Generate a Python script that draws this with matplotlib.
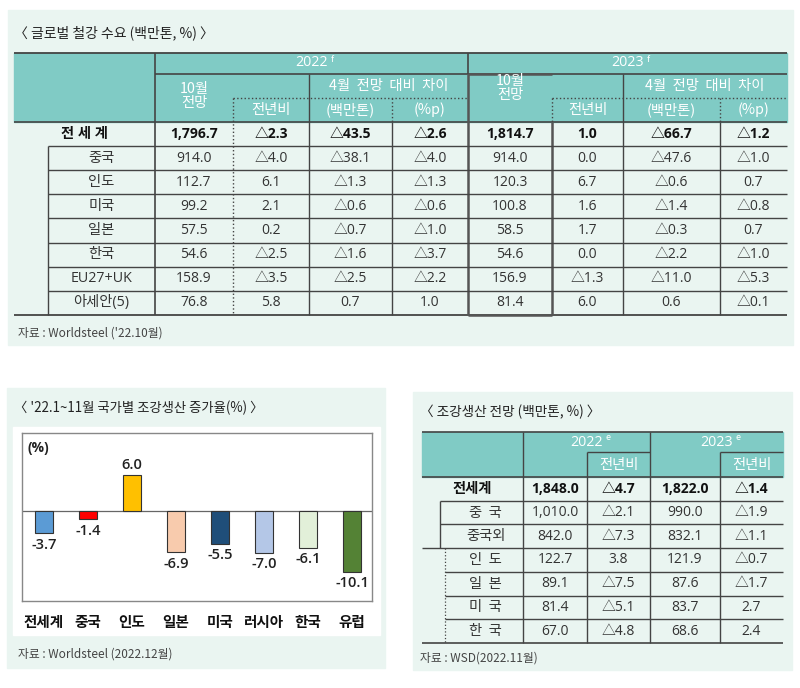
import matplotlib
matplotlib.use("Agg")
import matplotlib.pyplot as plt
import matplotlib.patches as patches

plt.rcParams['font.family'] = ['Noto Sans CJK KR', 'DejaVu Sans']
NUMF = ['Open Sans', 'Noto Sans CJK KR', 'DejaVu Sans']

# --- 글로벌 철강 수요 ---
demand_rows = ['전 세 계', '중국', '인도', '미국', '일본', '한국', 'EU27+UK', '아세안(5)']
d22_oct = [1796.7, 914.0, 112.7, 99.2, 57.5, 54.6, 158.9, 76.8]
d22_yoy = [-2.3, -4.0, 6.1, 2.1, 0.2, -2.5, -3.5, 5.8]
d22_dmt = [-43.5, -38.1, -1.3, -0.6, -0.7, -1.6, -2.5, 0.7]
d22_dpp = [-2.6, -4.0, -1.3, -0.6, -1.0, -3.7, -2.2, 1.0]
d23_oct = [1814.7, 914.0, 120.3, 100.8, 58.5, 54.6, 156.9, 81.4]
d23_yoy = [1.0, 0.0, 6.7, 1.6, 1.7, 0.0, -1.3, 6.0]
d23_dmt = [-66.7, -47.6, -0.6, -1.4, -0.3, -2.2, -11.0, 0.6]
d23_dpp = [-1.2, -1.0, 0.7, -0.8, 0.7, -1.0, -5.3, -0.1]

# --- 조강생산 증가율 ---
countries = ['전세계', '중국', '인도', '일본', '미국', '러시아', '한국', '유럽']
growth = [-3.7, -1.4, 6.0, -6.9, -5.5, -7.0, -6.1, -10.1]
bar_colors = ['#5b9bd5', '#ff0000', '#ffc000', '#f8cbad', '#1f4e79', '#b4c7e7', '#e2f0d9', '#548235']

# --- 조강생산 전망 ---
prod_rows = ['전세계', '중  국', '중국외', '인  도', '일  본', '미  국', '한  국']
p22 = [1848.0, 1010.0, 842.0, 122.7, 89.1, 81.4, 67.0]
p22_yoy = [-4.7, -2.1, -7.3, 3.8, -7.5, -5.1, -4.8]
p23 = [1822.0, 990.0, 832.1, 121.9, 87.6, 83.7, 68.6]
p23_yoy = [-1.4, -1.9, -1.1, -0.7, -1.7, 2.7, 2.4]

BG = '#eaf5f1'
HEAD = '#80cbc5'
LINE = '#444444'
TXT = '#333333'
DS = 10   # data font size


def fmt(v):
    return ('△' if v < 0 else '') + f'{abs(v):,.1f}'


def hline(ax, y, x0, x1, lw=1.0, ls='-', c=LINE):
    ax.plot([x0, x1], [y, y], color=c, lw=lw, ls=ls, solid_capstyle='butt')


def vline(ax, x, y0, y1, lw=1.0, ls='-', c=LINE):
    ax.plot([x, x], [y0, y1], color=c, lw=lw, ls=ls, solid_capstyle='butt')


fig = plt.figure(figsize=(8, 6.88), dpi=100)
ax = fig.add_axes([0, 0, 1, 1])
ax.set_xlim(0, 800)
ax.set_ylim(688, 0)
ax.axis('off')

# panel backgrounds
ax.add_patch(patches.Rectangle((8, 10), 785, 335, color=BG, zorder=0))
ax.add_patch(patches.Rectangle((7, 388), 378, 280, color=BG, zorder=0))
ax.add_patch(patches.Rectangle((413, 392), 379, 278, color=BG, zorder=0))

# ================= table 1 =================
ax.text(14, 33, '〈 글로벌 철강 수요 (백만톤, %) 〉', fontsize=10, color='#222222', va='center', weight='medium')
L, R, T, HB = 14, 787, 53, 122
ax.add_patch(patches.Rectangle((L, T), R - L, HB - T, color=HEAD, zorder=1))
row_h = 24.1
nrow = len(demand_rows)
B = HB + row_h * nrow
cols = [155, 233, 309, 392, 468, 552, 623, 720, 787]

hline(ax, T, L, R, 1.3)
hline(ax, 74, 155, R, 1.2)
hline(ax, HB, L, R, 1.2)
hline(ax, B, L, R, 1.3)
hline(ax, 98, 233, 468, 1.0, ':')
hline(ax, 98, 552, R, 1.0, ':')
vline(ax, 155, T, B, 1.2)
vline(ax, 309, 74, B, 1.0)
vline(ax, 623, 74, B, 1.0)
vline(ax, 233, 98, B, 1.0, ':')
vline(ax, 392, 98, HB, 1.0, ':')
vline(ax, 392, HB, B, 1.0)
vline(ax, 720, 98, HB, 1.0, ':')
vline(ax, 720, HB, B, 1.0)
vline(ax, 552, 98, HB, 1.0, ':')
vline(ax, 552, HB, B, 1.8, c='#555555')
vline(ax, 468, T, 74, 1.2)
vline(ax, 468, 74, B, 1.8, c='#555555')
hline(ax, 74, 468, 552, 1.8, c='#555555')
hline(ax, B, 468, 552, 1.8, c='#555555')
vline(ax, 48, HB + row_h, B, 1.0)
for i in range(1, nrow):
    hline(ax, HB + row_h * i, 48, R, 1.0)

hc = 'white'
hs = 10.3
ax.text((155 + 468) / 2, 63, '2022', color=hc, fontsize=hs, ha='center', va='center', family=NUMF)
ax.text((155 + 468) / 2 + 19, 59, 'f', color=hc, fontsize=6.5, ha='left', va='center', style='italic')
ax.text((468 + R) / 2, 63, '2023', color=hc, fontsize=hs, ha='center', va='center', family=NUMF)
ax.text((468 + R) / 2 + 19, 59, 'f', color=hc, fontsize=6.5, ha='left', va='center', style='italic')
ax.text(194, 96, '10월\n전망', color=hc, fontsize=hs, ha='center', va='center', linespacing=1.0)
ax.text(510, 88, '10월\n전망', color=hc, fontsize=hs, ha='center', va='center', linespacing=1.0)
ax.text((309 + 468) / 2, 86, '4월  전망  대비  차이', color=hc, fontsize=hs, ha='center', va='center')
ax.text((623 + R) / 2, 86, '4월  전망  대비  차이', color=hc, fontsize=hs, ha='center', va='center')
for x0, x1, s in [(233, 309, '전년비'), (309, 392, '(백만톤)'), (392, 468, '(%p)'),
                  (552, 623, '전년비'), (623, 720, '(백만톤)'), (720, 787, '(%p)')]:
    ax.text((x0 + x1) / 2, 110, s, color=hc, fontsize=hs, ha='center', va='center')

series1 = [d22_oct, d22_yoy, d22_dmt, d22_dpp, d23_oct, d23_yoy, d23_dmt, d23_dpp]
for i, name in enumerate(demand_rows):
    y = HB + row_h * (i + 0.5)
    bold = i == 0
    w = 'bold' if bold else 'normal'
    col = '#111111' if bold else TXT
    xc = (L + 155) / 2 if bold else (48 + 155) / 2
    ax.text(xc, y, name, fontsize=10.3, ha='center', va='center', color=col, weight=w, family=NUMF)
    for j, s in enumerate(series1):
        xc = (cols[j] + cols[j + 1]) / 2
        ax.text(xc, y, fmt(s[i]), fontsize=DS, ha='center', va='center', color=col, weight=w, family=NUMF)

ax.text(18, 333, "자료 : Worldsteel ('22.10월)", fontsize=8.5, color='#444444', va='center')

# ================= bar chart =================
ax.text(14, 408, "〈 '22.1~11월 국가별 조강생산 증가율(%) 〉", fontsize=9.6, color='#222222', va='center', weight='medium')
ax.add_patch(patches.Rectangle((13, 427), 367, 208, color='white', zorder=1))
ax.text(27, 448, '(%)', fontsize=10, weight='bold', color='#222222', va='center', family=NUMF)
ax.text(18, 654, '자료 : Worldsteel (2022.12월)', fontsize=8.5, color='#444444', va='center')

bx = fig.add_axes([22 / 800, 1 - 601 / 688, 350 / 800, 168 / 688])
bx.set_facecolor('none')
pos = list(range(len(countries)))
bx.bar(pos, growth, width=0.42, color=bar_colors, edgecolor='#333333', linewidth=0.8, zorder=3)
bx.axhline(0, color='#666666', lw=0.9, zorder=2)
bx.set_xlim(-0.5, 7.45)
bx.set_ylim(-15, 13)
bx.set_xticks([])
bx.set_yticks([])
for sp in bx.spines.values():
    sp.set_color('#888888')
    sp.set_linewidth(1.0)
for p, v in zip(pos, growth):
    off = 1.7 if v > 0 else -1.9
    bx.text(p, v + off, f'{v:.1f}', ha='center', va='center', fontsize=10.5, color='#222222',
            weight='semibold', family=NUMF)
for p, c in zip(pos, countries):
    bx.text(p, -18.5, c, ha='center', va='center', fontsize=10.5, weight='bold', color='#111111', clip_on=False)

# ================= table 3 =================
ax.text(420, 412, '〈 조강생산 전망 (백만톤, %) 〉', fontsize=9.8, color='#222222', va='center', weight='medium')
L3, R3, T3, HB3 = 422, 783, 432, 477
rh3 = 23.7
B3 = HB3 + rh3 * len(prod_rows)
c3 = [523, 587, 650, 720, 783]
ax.add_patch(patches.Rectangle((L3, T3), R3 - L3, HB3 - T3, color=HEAD, zorder=1))
hline(ax, T3, L3, R3, 1.2)
hline(ax, HB3, L3, R3, 1.2)
hline(ax, B3, L3, R3, 1.2)
hline(ax, 452, 587, 650, 1.0)
hline(ax, 452, 720, R3, 1.0)
vline(ax, 523, T3, B3, 1.0)
vline(ax, 650, T3, B3, 1.0)
vline(ax, 587, 452, B3, 1.0)
vline(ax, 720, 452, B3, 1.0)
vline(ax, 440, HB3 + rh3, HB3 + rh3 * 3, 1.0)
vline(ax, 445, HB3 + rh3 * 3, B3, 0.9, ':')
hline(ax, HB3 + rh3, 440, R3, 1.0)
hline(ax, HB3 + rh3 * 2, 440, R3, 1.0)
hline(ax, HB3 + rh3 * 3, L3, R3, 1.0)
for i in range(4, len(prod_rows)):
    hline(ax, HB3 + rh3 * i, 445, R3, 1.0)

ax.text((523 + 650) / 2, 442, '2022', color='white', fontsize=10.3, ha='center', va='center', family=NUMF)
ax.text((523 + 650) / 2 + 19, 438, 'e', color='white', fontsize=6.5, ha='left', va='center')
ax.text((650 + R3) / 2, 442, '2023', color='white', fontsize=10.3, ha='center', va='center', family=NUMF)
ax.text((650 + R3) / 2 + 19, 438, 'e', color='white', fontsize=6.5, ha='left', va='center')
ax.text((587 + 650) / 2, 465, '전년비', color='white', fontsize=10.3, ha='center', va='center')
ax.text((720 + R3) / 2, 465, '전년비', color='white', fontsize=10.3, ha='center', va='center')

series3 = [p22, p22_yoy, p23, p23_yoy]
for i, name in enumerate(prod_rows):
    y = HB3 + rh3 * (i + 0.5)
    bold = i == 0
    w = 'bold' if bold else 'normal'
    col = '#111111' if bold else TXT
    xc = (L3 + 523) / 2 if bold else (448 + 523) / 2
    ax.text(xc, y, name, fontsize=10.3, ha='center', va='center', color=col, weight=w)
    for j, s in enumerate(series3):
        ax.text((c3[j] + c3[j + 1]) / 2, y, fmt(s[i]), fontsize=DS, ha='center', va='center', color=col, weight=w,
                family=NUMF)

ax.text(420, 658, '자료 : WSD(2022.11월)', fontsize=8.5, color='#444444', va='center')

fig.savefig('out.png', dpi=100)
